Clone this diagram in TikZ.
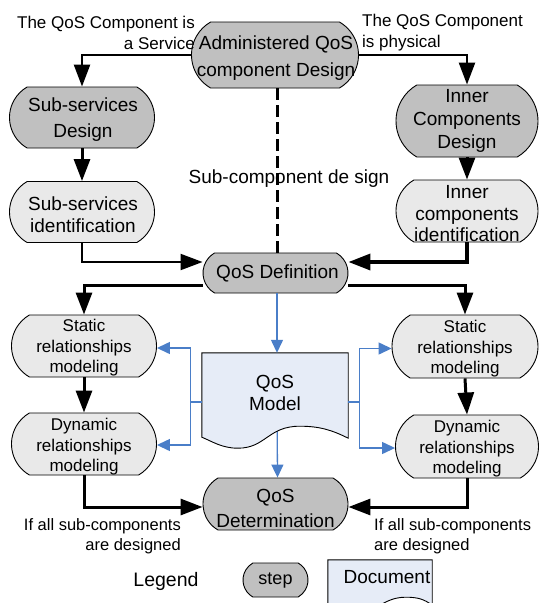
\documentclass[tikz,border=0pt]{standalone}
\usepackage{fontspec}
\setmainfont{Liberation Sans}
\usetikzlibrary{shapes.misc,arrows.meta,backgrounds,calc}
\definecolor{stepgray}{RGB}{192,192,192}
\definecolor{lightstep}{RGB}{233,233,233}
\definecolor{docblue}{RGB}{230,236,247}
\definecolor{lineblue}{RGB}{74,126,200}
\begin{document}
\begin{tikzpicture}[x=1pt,y=-1pt,
  stepbox/.style={rounded rectangle, rounded rectangle arc length=120, draw=black, line width=0.9pt, inner sep=0pt},
  dark/.style={stepbox, fill=stepgray},
  light/.style={stepbox, fill=lightstep},
  big/.style={font=\fontsize{19}{23}\selectfont, align=center, inner sep=0pt},
  small/.style={font=\fontsize{17}{20.5}\selectfont, align=center, inner sep=0pt},
  lbl/.style={font=\fontsize{17}{21}\selectfont, inner sep=0pt},
  arr/.style={line width=3pt, -{Triangle[length=22pt,width=16pt]}},
  thinarr/.style={line width=2pt, -{Triangle[length=22pt,width=16pt]}},
  barr/.style={draw=lineblue, line width=1.3pt, -{Triangle[length=13pt,width=12pt]}},
  bline/.style={draw=lineblue, line width=1.3pt},
  docshape/.style={draw=black, line width=0.9pt, fill=docblue},
]
\useasboundingbox (0,0) rectangle (540,603);

% ---------- nodes ----------
\node[dark, minimum width=167, minimum height=66] (adm) at (275,55) {};
\node[big, font=\fontsize{19}{27}\selectfont] (admT) at (276,58) {Administered QoS\\component Design};

\node[dark, minimum width=145, minimum height=61] (ssd) at (82,117.5) {};
\node[big, font=\fontsize{19}{26}\selectfont] (ssdT) at (83,120) {Sub-services\\Design};

\node[dark, minimum width=142, minimum height=72] (icd) at (467,121) {};
\node[big] (icdT) at (467,121) {Inner\\Components\\Design};

\node[light, minimum width=145, minimum height=61] (ssi) at (82,212) {};
\node[big, font=\fontsize{19}{22}\selectfont] (ssiT) at (83,215) {Sub-services\\identification};

\node[light, minimum width=142, minimum height=62] (ici) at (467,211) {};
\node[big, font=\fontsize{19}{21.5}\selectfont] (iciT) at (467,214) {Inner\\components\\identification};

\node[dark, minimum width=145, minimum height=40] (def) at (275.5,273) {};
\node[big] (defT) at (277.5,273) {QoS Definition};

\node[light, minimum width=145, minimum height=62] (ssm) at (84,346) {};
\node[small] (ssmT) at (84,348) {Static\\relationships\\modeling};

\node[light, minimum width=146, minimum height=63] (srm) at (465,346.5) {};
\node[small] (srmT) at (465,349) {Static\\relationships\\modeling};

\node[light, minimum width=145, minimum height=62] (dsm) at (84,444) {};
\node[small] (dsmT) at (84,447) {Dynamic\\relationships\\modeling};

\node[light, minimum width=143, minimum height=63] (drm) at (467,446.5) {};
\node[small] (drmT) at (467,449) {Dynamic\\relationships\\modeling};

\node[dark, minimum width=145, minimum height=52] (det) at (275.5,504) {};
\node[big, font=\fontsize{19}{25}\selectfont] (detT) at (275.5,508) {QoS\\Determination};

% QoS Model document
\node[minimum width=146, minimum height=95, inner sep=0pt] (doc) at (275,400.5) {};
\draw[docshape] (doc.north west) -- (doc.north east) -- ([yshift=10pt]doc.south east)
  .. controls +(-16pt,8pt) and +(20pt,0pt) .. ([xshift=98pt,yshift=22pt]doc.south west)
  .. controls +(-32pt,0pt) and +(28pt,0pt) .. ([xshift=36pt]doc.south west)
  .. controls +(-16pt,0pt) and +(10pt,-4pt) .. ([yshift=11pt]doc.south west) -- cycle;
\node[big, font=\fontsize{19}{22}\selectfont] (docT) at (275,393) {QoS\\Model};

% ---------- free labels ----------
\node[lbl, align=right, anchor=east] (lsvc) at (195,33) {The QoS Component is\\a Service};
\node[lbl, align=left, anchor=west] (lphys) at (362,33) {The QoS Component\\is physical};
\node[big] (subc) at (289,179) {Sub-component de sign};
\node[lbl, align=right, anchor=east, font=\fontsize{16.5}{20}\selectfont] (lall) at (181,536) {If all sub-components\\are designed};
\node[lbl, align=left, anchor=west, font=\fontsize{16.5}{20}\selectfont] (rall) at (374,536) {If all sub-components\\are designed};

% ---------- legend ----------
\node[big, font=\fontsize{19.5}{23}\selectfont] (leg) at (166,581) {Legend};
\node[dark, minimum width=65, minimum height=34] (lstep) at (275.5,580) {};
\node[big, font=\fontsize{18}{22}\selectfont] (lstepT) at (275.5,581) {step};
\node[minimum width=104, minimum height=55, inner sep=0pt] (ldoc) at (380,587.5) {};
\draw[docshape] (ldoc.north west) -- (ldoc.north east) -- ([yshift=10pt]ldoc.south east)
  .. controls +(-8pt,6pt) and +(12pt,0pt) .. ([xshift=78pt,yshift=18pt]ldoc.south west)
  .. controls +(-24pt,0pt) and +(20pt,0pt) .. ([xshift=26pt]ldoc.south west)
  .. controls +(-12pt,0pt) and +(8pt,-3pt) .. ([yshift=9pt]ldoc.south west) -- cycle;
\node[big] (ldocT) at (387,577) {Document};

% ---------- connectors ----------
\draw[arr, line width=2.5pt] (adm.west) -| (ssd.north);
\draw[arr, line width=2.5pt] (adm.east) -| (icd.north);
\draw[arr] (ssd.south) -- (ssi.north);
\draw[arr] (icd.south) -- (ici.north);
\draw[line width=3pt, dash pattern=on 12pt off 5pt] ([xshift=2pt]adm.south) -- ([xshift=1.5pt]def.north);
\draw[thinarr] (ssi.south) |- ([yshift=11pt]def.west);
\draw[arr, line width=3.5pt] (ici.south) |- ([yshift=11pt]def.east);
\draw[arr] ([yshift=-12pt]def.west) -| (ssm.north);
\draw[arr] ([yshift=-12pt]def.east) -| (srm.north);
\draw[arr] (ssm.south) -- (dsm.north);
\draw[arr] (srm.south) -- (drm.north);
\draw[arr] (dsm.south) |- ([yshift=-3pt]det.west);
\draw[arr] (drm.south) |- ([yshift=-3pt]det.east);

% blue connectors
\draw[barr] ([xshift=1.5pt]def.south) -- ([xshift=2pt]doc.north);
\coordinate (bl) at ([xshift=-11pt,yshift=-1.5pt]doc.west);
\coordinate (br) at ([xshift=11pt,yshift=-1.5pt]doc.east);
\draw[bline] ([yshift=-1.5pt]doc.west) -- (bl);
\draw[barr] (bl) |- ([yshift=-2pt]ssm.east);
\draw[barr] (bl) |- ([yshift=-1pt]dsm.east);
\draw[bline] ([yshift=-1.5pt]doc.east) -- (br);
\draw[barr] (br) |- ([yshift=-2pt]srm.west);
\draw[barr] (br) |- ([yshift=-1.5pt]drm.west);
\begin{pgfonlayer}{background}
\draw[barr] ([xshift=2pt]doc.center) -- ([xshift=2pt]det.north);
\end{pgfonlayer}
\end{tikzpicture}
\end{document}
